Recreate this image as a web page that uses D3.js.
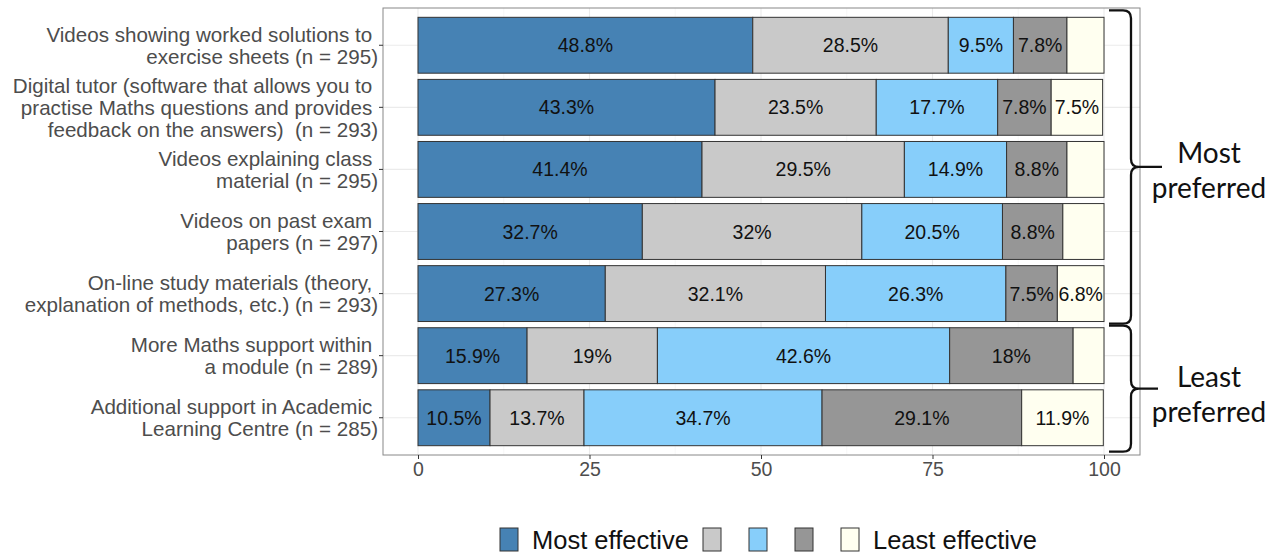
<!DOCTYPE html>
<html><head><meta charset="utf-8">
<script src="https://cdn.jsdelivr.net/npm/d3@7"></script>
<style>body{margin:0;background:#fff;} svg{display:block;}</style>
</head><body>
<svg id="chart" width="1280" height="553"></svg>
<script>
const categories = [
  "Videos showing worked solutions to \nexercise sheets (n = 295)",
  "Digital tutor (software that allows you to \npractise Maths questions and provides \nfeedback on the answers)  (n = 293)",
  "Videos explaining class \nmaterial (n = 295)",
  "Videos on past exam \npapers (n = 297)",
  "On-line study materials (theory, \nexplanation of methods, etc.) (n = 293)",
  "More Maths support within \na module (n = 289)",
  "Additional support in Academic \nLearning Centre (n = 285)"
];
const levels = ["Most effective", "2", "3", "4", "Least effective"];
const legendLabels = ["Most effective", "", "", "", "Least effective"];
const mostEffective  = [48.8, 43.3, 41.4, 32.7, 27.3, 15.9, 10.5];
const level2         = [28.5, 23.5, 29.5, 32,   32.1, 19,   13.7];
const level3         = [9.5,  17.7, 14.9, 20.5, 26.3, 42.6, 34.7];
const level4         = [7.8,  7.8,  8.8,  8.8,  7.5,  18,   29.1];
const leastEffective = [5.4,  7.5,  5.4,  6.0,  6.8,  4.5,  11.9];
const xTicks = [0, 25, 50, 75, 100];
const xMinorTicks = [12.5, 37.5, 62.5, 87.5];
const colors = ["#4682B4", "#C9C9C9", "#87CEFA", "#969696", "#FFFFF0"];
const groups = [
  {label: ["Most", "preferred"], from: 0, to: 4},
  {label: ["Least", "preferred"], from: 5, to: 6}
];

const series = [mostEffective, level2, level3, level4, leastEffective];
const svg = d3.select("#chart");
const panel = {left: 383, right: 1140, top: 8, bottom: 455};
const FONT = "Liberation Sans, Arial, sans-serif";

const x = d3.scaleLinear().domain([0, 100]).range([418, 1104]);
const y = d3.scaleBand().domain(d3.range(categories.length))
  .range([panel.top, panel.bottom]).paddingInner(0.1).paddingOuter(0.15);

// panel background + grid
svg.append("rect").attr("x", panel.left).attr("y", panel.top)
  .attr("width", panel.right - panel.left).attr("height", panel.bottom - panel.top)
  .attr("fill", "#fff");
svg.selectAll(".gminor").data(xMinorTicks).join("line")
  .attr("x1", d => x(d)).attr("x2", d => x(d))
  .attr("y1", panel.top).attr("y2", panel.bottom)
  .attr("stroke", "#F4F4F4").attr("stroke-width", 0.6);
svg.selectAll(".gmajor").data(xTicks).join("line")
  .attr("x1", d => x(d)).attr("x2", d => x(d))
  .attr("y1", panel.top).attr("y2", panel.bottom)
  .attr("stroke", "#EBEBEB").attr("stroke-width", 1.1);
svg.selectAll(".gy").data(d3.range(categories.length)).join("line")
  .attr("x1", panel.left).attr("x2", panel.right)
  .attr("y1", d => y(d) + y.bandwidth() / 2).attr("y2", d => y(d) + y.bandwidth() / 2)
  .attr("stroke", "#EBEBEB").attr("stroke-width", 1.1);

// stacked data
const rows = categories.map((c, i) => {
  let cum = 0;
  return series.map((s, k) => {
    const seg = {row: i, k, v: s[i], x0: cum, x1: cum + s[i]};
    cum += s[i];
    return seg;
  });
}).flat();

svg.append("g").selectAll("rect").data(rows).join("rect")
  .attr("x", d => x(d.x0)).attr("width", d => x(d.x1) - x(d.x0))
  .attr("y", d => y(d.row)).attr("height", y.bandwidth())
  .attr("fill", d => colors[d.k]).attr("stroke", "#333").attr("stroke-width", 1);

svg.append("g").selectAll("text").data(rows.filter(d => d.v >= 6.5)).join("text")
  .attr("x", d => (x(d.x0) + x(d.x1)) / 2)
  .attr("y", d => y(d.row) + y.bandwidth() / 2)
  .attr("dy", "0.36em").attr("text-anchor", "middle")
  .attr("font-family", FONT).attr("font-size", 19.5)
  .attr("fill", "#111")
  .text(d => d.v + "%");

// panel border
svg.append("rect").attr("x", panel.left).attr("y", panel.top)
  .attr("width", panel.right - panel.left).attr("height", panel.bottom - panel.top)
  .attr("fill", "none").attr("stroke", "#888").attr("stroke-width", 1);

// x axis
const xAxis = svg.append("g").attr("transform", `translate(0,${panel.bottom})`)
  .call(d3.axisBottom(x).tickValues(xTicks).tickSize(4).tickPadding(3));
xAxis.select(".domain").remove();
xAxis.selectAll("line").attr("stroke", "#333");
xAxis.selectAll("text").attr("font-family", FONT)
  .attr("font-size", 19.5).attr("fill", "#4D4D4D");

// y axis
const yAxis = svg.append("g").attr("transform", `translate(${panel.left},0)`)
  .call(d3.axisLeft(y).tickSize(4).tickFormat(""));
yAxis.select(".domain").remove();
yAxis.selectAll("line").attr("stroke", "#333");

const lineH = 21.8;
const yl = svg.append("g");
categories.forEach((c, i) => {
  const lines = c.split("\n");
  const cy = y(i) + y.bandwidth() / 2;
  const t = yl.append("text").attr("text-anchor", "end")
    .attr("font-family", FONT).attr("font-size", 20.6)
    .attr("fill", "#4D4D4D").style("white-space", "pre");
  lines.forEach((l, j) => {
    t.append("tspan").attr("x", 378)
      .attr("y", cy + (j - (lines.length - 1) / 2) * lineH)
      .attr("dy", "0.36em").text(l);
  });
});

// braces
function bracePath(xs, y0, y1, depthL, tipR) {
  const ym = (y0 + y1) / 2, r = 8;
  return `M${xs - depthL},${y0} L${xs - r},${y0} Q${xs},${y0} ${xs},${y0 + r}
    L${xs},${ym - r} Q${xs},${ym} ${xs + r},${ym} L${tipR},${ym}
    M${xs + r},${ym} Q${xs},${ym} ${xs},${ym + r}
    L${xs},${y1 - r} Q${xs},${y1} ${xs - r},${y1} L${xs - depthL},${y1}`;
}
groups.forEach((g, gi) => {
  const y0 = gi === 0 ? y(g.from) - 7 : (y(g.from - 1) + y.bandwidth() + y(g.from)) / 2 + 1;
  const y1 = gi === 0 ? (y(g.to) + y.bandwidth() + y(g.to + 1)) / 2 - 1 : y(g.to) + y.bandwidth() + 6;
  svg.append("path").attr("d", bracePath(1131, y0, y1, 22, gi === 0 ? 1162 : 1158))
    .attr("fill", "none").attr("stroke", "#111").attr("stroke-width", 2.3);
  const ym = (y0 + y1) / 2 + (gi === 0 ? 3 : 6);
  g.label.forEach((l, j) => {
    svg.append("text").attr("x", 1209).attr("y", ym + (j - 0.5) * 35)
      .attr("dy", "0.36em").attr("text-anchor", "middle")
      .attr("font-family", "Lato, Open Sans, sans-serif").attr("font-size", 28)
      .attr("fill", "#111").text(l);
  });
});

// legend
const legX = [500, 703, 749, 795, 841];
const lg = svg.append("g");
levels.forEach((lv, k) => {
  lg.append("rect").attr("x", legX[k]).attr("y", 528).attr("width", 18).attr("height", 23)
    .attr("fill", colors[k]).attr("stroke", "#333").attr("stroke-width", 1);
  if (legendLabels[k]) {
    lg.append("text").attr("x", legX[k] + 32).attr("y", 540).attr("dy", "0.36em")
      .attr("font-family", FONT).attr("font-size", 25.5)
      .attr("fill", "#111").text(legendLabels[k]);
  }
});
</script>
</body></html>
